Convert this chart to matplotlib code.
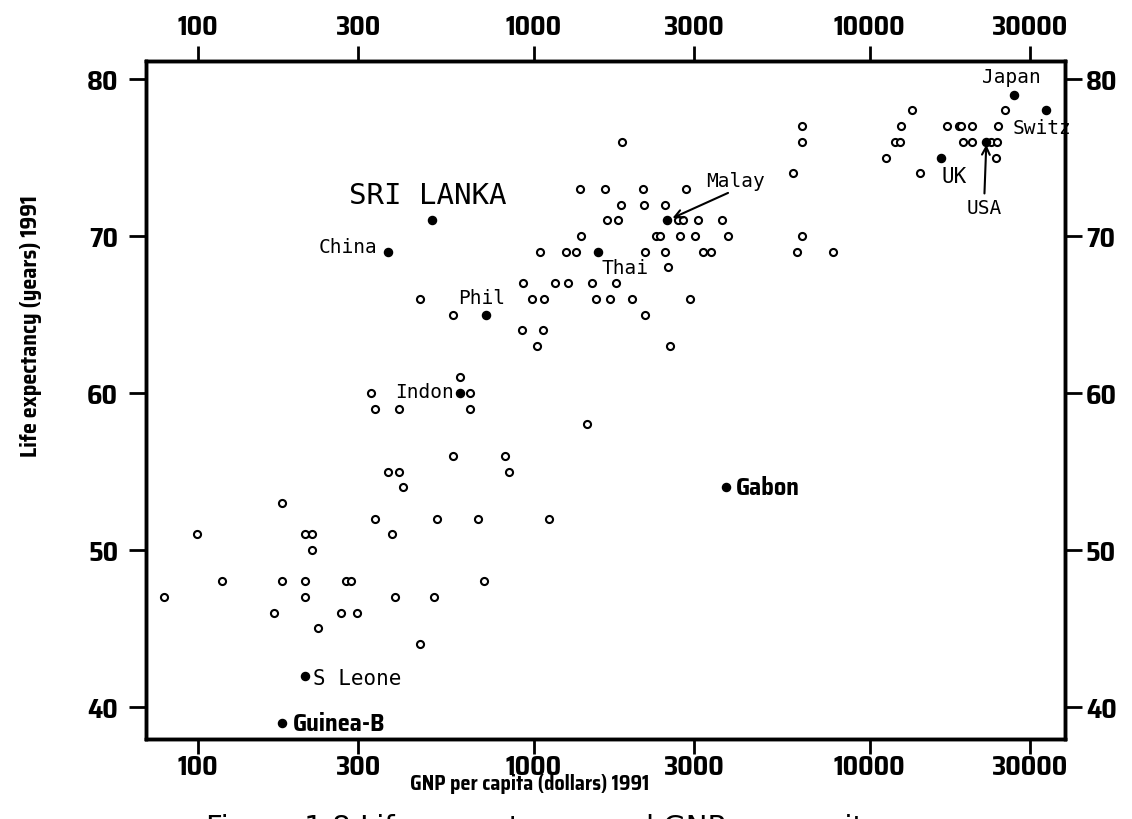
import matplotlib
matplotlib.use("Agg")
import matplotlib.pyplot as plt
from matplotlib import font_manager

# open circles: GNP per capita (dollars) and life expectancy (years), 1991
gnp = [79, 99, 118, 168, 178, 178, 208, 219, 218, 208, 208, 228, 267, 276, 285, 297,
       327, 336, 336, 367, 377, 386, 398, 398, 407, 457, 506, 516, 576, 604, 644, 644,
       681, 711, 819, 842, 1110, 1439,
       458, 576,
       1371, 1626, 2109, 2832,
       1824, 2133, 2455,
       1649, 1778, 2681, 2775, 3092, 3647,
       1379, 2311, 2377, 2717, 3027, 3785, 6310,
       1042, 1249, 1336, 2143, 2455, 3193, 3382, 6082, 7800,
       2513,
       931, 1154, 1262, 1490, 1758,
       989, 1071, 1535, 1682, 1964, 2912,
       2148, 923, 1067, 1021, 2542,
       1836, 6290, 6310, 5904,
       13400, 25400,
       12380, 17060, 18440, 18720, 20170, 24160,
       11940, 12350, 18920, 20140, 22970, 23990,
       11190, 23800, 14150]
life = [47, 51, 48, 46, 53, 48, 51, 51, 50, 48, 47, 45, 46, 48, 48, 46,
        60, 59, 52, 55, 51, 47, 59, 55, 54, 44, 47, 52, 56, 61, 60, 59,
        52, 48, 56, 55, 52, 58,
        66, 65,
        73, 73, 73, 73,
        72, 72, 72,
        71, 71, 71, 71, 71, 71,
        70, 70, 70, 70, 70, 70, 70,
        69, 69, 69, 69, 69, 69, 69, 69, 69,
        68,
        67, 67, 67, 67, 67,
        66, 66, 66, 66, 66, 66,
        65, 64, 64, 63, 63,
        76, 76, 77, 74,
        78, 78,
        77, 77, 77, 77, 77, 77,
        76, 76, 76, 76, 76, 76,
        75, 75, 74]

# named countries (filled dots)
names = ["SRI LANKA", "China", "Phil", "Indon", "Thai", "Malay", "Japan", "Switz",
         "UK", "USA", "Gabon", "S Leone", "Guinea-B"]
name_gnp = [499, 368, 722, 601, 1550, 2500, 26900, 33570, 16360, 22280, 3741, 208, 178]
name_life = [71, 69, 65, 60, 69, 71, 79, 78, 75, 76, 54, 42, 39]

xticks = [100, 300, 1000, 3000, 10000, 30000]
yticks = [40, 50, 60, 70, 80]

mono = ["DejaVu Sans Mono"]


def bold(size):
    return font_manager.FontProperties(family=["Saira SemiCondensed", "DejaVu Sans"],
                                       weight="bold", size=size)


fig = plt.figure(figsize=(11.32, 8.2), dpi=100)
ax = fig.add_axes([146 / 1132, 1 - 740 / 820, (1065 - 146) / 1132, (740 - 62) / 820])

ax.scatter(gnp, life, s=26, facecolors="white", edgecolors="black", linewidths=1.5, zorder=3)
ax.scatter(name_gnp, name_life, s=34, color="black", zorder=4)

ax.set_xscale("log")
ax.set_xlim(70, 38200)
ax.set_ylim(37.96, 81.15)
ax.set_xticks(xticks)
ax.set_xticklabels([str(t) for t in xticks])
ax.set_yticks(yticks)
ax.minorticks_off()

for s in ax.spines.values():
    s.set_linewidth(2.4)

ax.tick_params(axis="x", direction="out", length=11, width=2, pad=0)
ax.tick_params(axis="y", direction="out", length=12, width=2, pad=8)
for lab in ax.get_xticklabels() + ax.get_yticklabels():
    lab.set_fontproperties(bold(19.5))

# top and right axes repeat the scales
axt = ax.twiny()
axt.set_xscale("log")
axt.set_xlim(ax.get_xlim())
axt.set_xticks(xticks)
axt.set_xticklabels([str(t) for t in xticks])
axt.minorticks_off()
axt.tick_params(axis="x", direction="out", length=11, width=2, pad=5)
axr = ax.twinx()
axr.set_ylim(ax.get_ylim())
axr.set_yticks(yticks)
axr.tick_params(axis="y", direction="out", length=12, width=2, pad=3)
for a in (axt, axr):
    for s in a.spines.values():
        s.set_linewidth(2.4)
for lab in axt.get_xticklabels() + axr.get_yticklabels():
    lab.set_fontproperties(bold(19.5))

ax.set_xlabel("GNP per capita (dollars) 1991", fontproperties=bold(14.5))
ax.xaxis.set_label_coords(0.417, -0.05)
ax.set_ylabel("Life expectancy (years) 1991", fontproperties=bold(16))
ax.yaxis.set_label_coords(-0.113, 0.61)

# country labels
pos = {
    "SRI LANKA": ((-3, 18), "center", 21),
    "China": ((-8, 4), "right", 14),
    "Phil": ((-3, 12), "center", 14),
    "Indon": ((-4, 1), "right", 14),
    "Thai": ((3, -11), "left", 14),
    "Japan": ((-1.5, 13), "center", 14),
    "Switz": ((-24, -12), "left", 14),
    "UK": ((0, -13), "left", 15),
    "S Leone": ((6, -2), "left", 15),
}
bold_pos = {"Gabon": (7, 0), "Guinea-B": (8, 0)}
for n, x, y in zip(names, name_gnp, name_life):
    if n in pos:
        off, ha, fs = pos[n]
        ax.annotate(n, (x, y), xytext=off, textcoords="offset points", ha=ha, va="center",
                    family=mono, fontsize=fs, zorder=5)
    elif n in bold_pos:
        ax.annotate(n, (x, y), xytext=bold_pos[n], textcoords="offset points", ha="left",
                    va="center", fontproperties=bold(17.5), zorder=5)

i = names.index("Malay")
ax.annotate("Malay", (name_gnp[i], name_life[i]), xytext=(49, 29), textcoords="offset points",
            ha="center", va="center", family=mono, fontsize=14,
            arrowprops=dict(arrowstyle="->", lw=1.5, color="black", shrinkA=1, shrinkB=4,
                            relpos=(0.5, 0)))
i = names.index("USA")
ax.annotate("USA", (name_gnp[i], name_life[i]), xytext=(-1.5, -47), textcoords="offset points",
            ha="center", va="center", family=mono, fontsize=14,
            arrowprops=dict(arrowstyle="->", lw=1.5, color="black", shrinkA=1, shrinkB=2,
                            relpos=(0.5, 1)))

# caption, cut off by the bottom of the page
fig.text(206 / 1132, -0.02, "Figure 1.8 Life expectancy and GNP per capita",
         fontsize=21, va="baseline", ha="left")

fig.savefig("out.png", dpi=100)
